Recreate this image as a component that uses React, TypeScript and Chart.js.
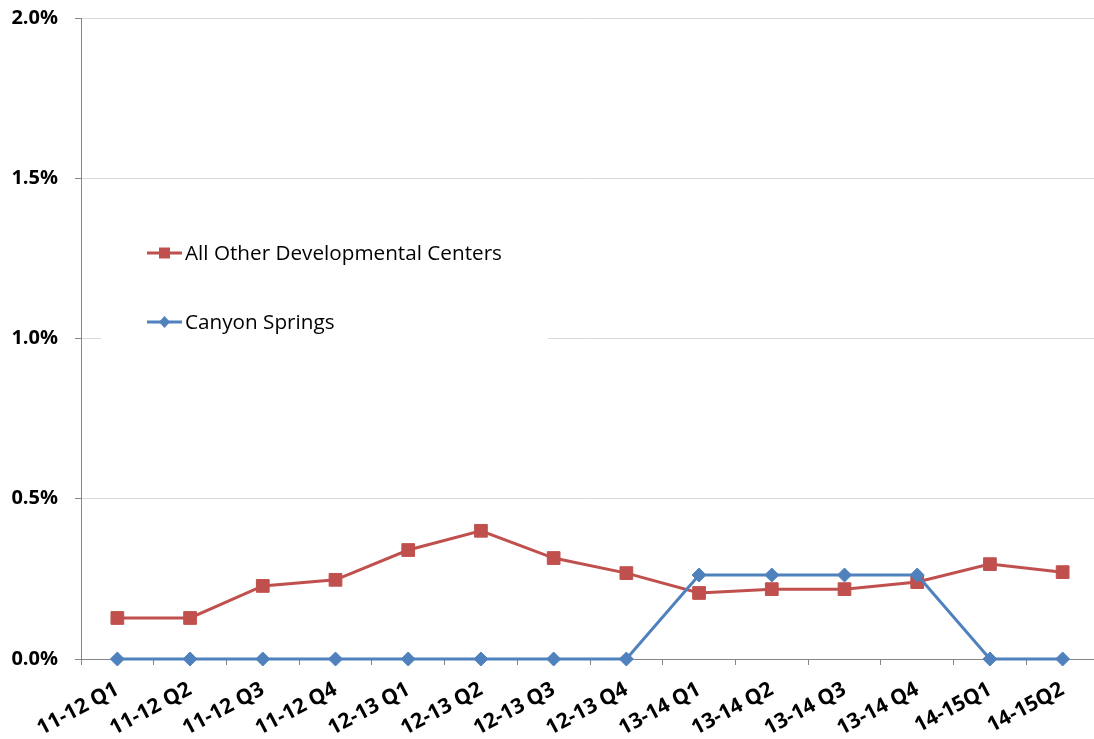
import React, { useEffect, useRef } from "react";
import { Chart, registerables } from "chart.js";

Chart.register(...registerables);

const categories = [
  "11-12 Q1", "11-12 Q2", "11-12 Q3", "11-12 Q4",
  "12-13 Q1", "12-13 Q2", "12-13 Q3", "12-13 Q4",
  "13-14 Q1", "13-14 Q2", "13-14 Q3", "13-14 Q4",
  "14-15Q1", "14-15Q2",
];

// values in percent
const allOtherCenters = [0.128, 0.128, 0.228, 0.247, 0.34, 0.40, 0.315, 0.268, 0.206, 0.218, 0.218, 0.24, 0.296, 0.271];
const canyonSprings = [0, 0, 0, 0, 0, 0, 0, 0, 0.262, 0.262, 0.262, 0.262, 0, 0];

const yTicks = [0, 0.5, 1.0, 1.5, 2.0];

const RED = "#C0504D";
const BLUE = "#4F81BD";

const legendPlugin = {
  id: "boxLegend",
  afterDraw(chart: any) {
    const ctx = chart.ctx;
    const left = chart.chartArea.left;
    ctx.save();
    ctx.fillStyle = "#ffffff";
    ctx.fillRect(left + 20, 225, 447, 118);
    const items = [
      { label: "All Other Developmental Centers", color: RED, shape: "rect", y: 253 },
      { label: "Canyon Springs", color: BLUE, shape: "diamond", y: 322 },
    ];
    items.forEach((it) => {
      const x0 = left + 66;
      const x1 = left + 101;
      const cx = (x0 + x1) / 2;
      ctx.strokeStyle = it.color;
      ctx.lineWidth = 3;
      ctx.beginPath();
      ctx.moveTo(x0, it.y);
      ctx.lineTo(x1, it.y);
      ctx.stroke();
      ctx.fillStyle = it.color;
      ctx.beginPath();
      if (it.shape === "rect") {
        ctx.rect(cx - 5.5, it.y - 5.5, 11, 11);
      } else {
        ctx.moveTo(cx, it.y - 6);
        ctx.lineTo(cx + 5.5, it.y);
        ctx.lineTo(cx, it.y + 6);
        ctx.lineTo(cx - 5.5, it.y);
        ctx.closePath();
      }
      ctx.fill();
      ctx.fillStyle = "#000000";
      ctx.font = '20.7px "Open Sans"';
      ctx.textAlign = "left";
      ctx.textBaseline = "middle";
      ctx.fillText(it.label, x1 + 3, it.y + 1);
    });
    ctx.restore();
  },
};

export default function App() {
  const canvasRef = useRef<HTMLCanvasElement | null>(null);

  useEffect(() => {
    const canvas = canvasRef.current;
    if (!canvas) return;
    const chart = new Chart(canvas, {
      type: "line",
      data: {
        labels: categories,
        datasets: [
          {
            label: "Canyon Springs",
            data: canyonSprings,
            borderColor: BLUE,
            backgroundColor: BLUE,
            borderWidth: 3,
            pointStyle: "rectRot",
            pointRadius: 7,
            pointBorderWidth: 1,
            pointBackgroundColor: BLUE,
            pointBorderColor: BLUE,
            tension: 0,
            clip: false,
            order: 1,
          },
          {
            label: "All Other Developmental Centers",
            data: allOtherCenters,
            borderColor: RED,
            backgroundColor: RED,
            borderWidth: 3,
            pointStyle: "rect",
            pointRadius: 9,
            pointBorderWidth: 1,
            pointBackgroundColor: RED,
            pointBorderColor: RED,
            tension: 0,
            clip: false,
            order: 2,
          },
        ],
      },
      options: {
        responsive: false,
        animation: false,
        devicePixelRatio: 1,
        layout: { padding: { top: 18, right: 1, left: 0, bottom: 0 } },
        plugins: {
          legend: { display: false },
          tooltip: { enabled: false },
        },
        scales: {
          x: {
            type: "category",
            offset: true,
            grid: {
              offset: true,
              drawOnChartArea: false,
              drawTicks: true,
              tickLength: 6,
              tickColor: "#868686",
            },
            border: { color: "#868686", width: 1 },
            ticks: {
              autoSkip: false,
              maxRotation: 28,
              minRotation: 28,
              padding: 12,
              color: "#000000",
              font: { family: '"Open Sans"', size: 21, weight: "bold" },
            },
            afterFit: (scale: any) => {
              scale.height = 80;
              scale.paddingLeft = 0;
              scale.paddingRight = 0;
            },
          },
          y: {
            min: 0,
            max: 2.0,
            afterBuildTicks: (scale: any) => {
              scale.ticks = yTicks.map((v) => ({ value: v }));
            },
            grid: {
              color: "#D9D9D9",
              tickColor: "#868686",
              tickLength: 6,
              drawTicks: true,
            },
            border: { color: "#868686", width: 1 },
            ticks: {
              padding: 17,
              color: "#000000",
              font: { family: '"Open Sans"', size: 20, weight: "bold" },
              callback: (v: any) => Number(v).toFixed(1) + "%",
            },
            afterFit: (scale: any) => {
              scale.width = 81;
              scale.paddingTop = 0;
              scale.paddingBottom = 0;
            },
          },
        },
      },
      plugins: [legendPlugin],
    });
    return () => chart.destroy();
  }, []);

  return (
    <div
      style={{
        position: "fixed",
        left: 0,
        top: 0,
        width: 1094,
        height: 739,
        overflow: "hidden",
        background: "#ffffff",
      }}
    >
      <canvas ref={canvasRef} width={1109} height={739} style={{ display: "block" }} />
    </div>
  );
}
